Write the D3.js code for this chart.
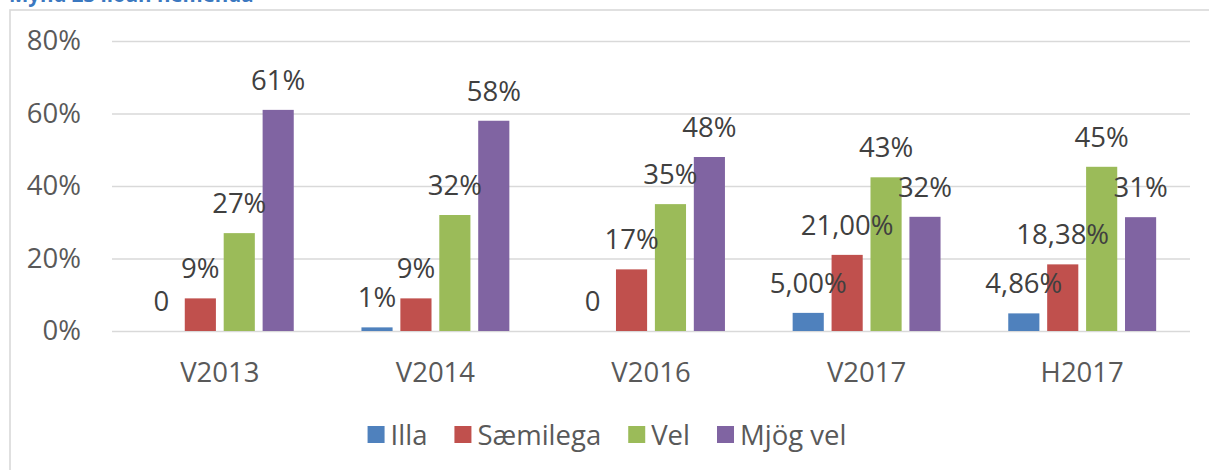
<!DOCTYPE html>
<html>
<head>
<meta charset="utf-8">
<script src="https://cdn.jsdelivr.net/npm/d3@7"></script>
<style>
  body { margin: 0; background: #fff; }
  svg { display: block; font-family: "Open Sans", sans-serif; }
</style>
</head>
<body>
<svg class="bar-chart"></svg>
<script>
const title = 'Mynd 23 líðan nemenda';
const categories = ['V2013', 'V2014', 'V2016', 'V2017', 'H2017'];
const seriesNames = ['Illa', 'Sæmilega', 'Vel', 'Mjög vel'];
const seriesColors = ['#4f81bd', '#c0504d', '#9bbb59', '#8064a2'];

const illa = [0, 0.01, 0, 0.05, 0.0486];
const saemilega = [0.09, 0.09, 0.17, 0.21, 0.1838];
const vel = [0.27, 0.32, 0.35, 0.424, 0.453];
const mjogVel = [0.61, 0.58, 0.48, 0.315, 0.314];

const illaLabels = ['0', '1%', '0', '5,00%', '4,86%'];
const saemilegaLabels = ['9%', '9%', '17%', '21,00%', '18,38%'];
const velLabels = ['27%', '32%', '35%', '43%', '45%'];
const mjogVelLabels = ['61%', '58%', '48%', '32%', '31%'];

const yTicks = [0, 0.2, 0.4, 0.6, 0.8];
const yTickLabels = ['0%', '20%', '40%', '60%', '80%'];

const seriesValues = [illa, saemilega, vel, mjogVel];
const seriesLabels = [illaLabels, saemilegaLabels, velLabels, mjogVelLabels];

drawChart();

function drawChart() {
  const svgWidth = 1209, svgHeight = 470;
  const plot = { left: 112, right: 1190, top: 41, bottom: 331 };

  const svg = d3.select('svg.bar-chart')
    .attr('width', svgWidth)
    .attr('height', svgHeight);

  // chart frame
  svg.append('rect')
    .attr('x', 10).attr('y', 10)
    .attr('width', 1300).attr('height', 600)
    .attr('fill', 'none')
    .attr('stroke', '#d9d9d9')
    .attr('stroke-width', 1.6);

  // title, cut off at the top like the source picture
  svg.append('text')
    .attr('x', 9).attr('y', 2)
    .attr('fill', '#3b78c0')
    .attr('font-weight', 'bold')
    .attr('font-size', 20.5)
    .text(title);

  const x0 = d3.scaleBand()
    .domain(categories)
    .range([plot.left, plot.right])
    .paddingInner(0.314)
    .paddingOuter(0.157);

  const x1 = d3.scaleBand()
    .domain(seriesNames)
    .range([0, x0.bandwidth()])
    .paddingInner(0.2);

  const y = d3.scaleLinear()
    .domain([0, 0.8])
    .range([plot.bottom, plot.top]);

  // gridlines + y labels
  const yAxis = d3.axisLeft(y)
    .tickValues(yTicks)
    .tickSize(-(plot.right - plot.left))
    .tickPadding(31)
    .tickFormat((d, i) => yTickLabels[i]);

  const gy = svg.append('g')
    .attr('transform', `translate(${plot.left},0)`)
    .call(yAxis);
  gy.select('.domain').remove();
  gy.selectAll('.tick line')
    .attr('stroke', '#d9d9d9')
    .attr('stroke-width', 1.6);
  gy.selectAll('.tick text')
    .attr('fill', '#595959')
    .attr('font-size', 27.5)
    .attr('font-family', '"Open Sans", sans-serif');

  // x labels
  const gx = svg.append('g')
    .attr('transform', `translate(0,${plot.bottom})`)
    .call(d3.axisBottom(x0).tickSize(0).tickPadding(0));
  gx.select('.domain').remove();
  gx.selectAll('.tick text')
    .attr('fill', '#595959')
    .attr('font-size', 27.5)
    .attr('font-family', '"Open Sans", sans-serif')
    .attr('dy', null)
    .attr('y', 51);

  // bars
  const points = [];
  seriesNames.forEach((s, si) => {
    categories.forEach((c, ci) => {
      points.push({ series: s, si, cat: c, value: seriesValues[si][ci], label: seriesLabels[si][ci] });
    });
  });

  svg.append('g').selectAll('rect')
    .data(points)
    .join('rect')
    .attr('x', d => x0(d.cat) + x1(d.series))
    .attr('y', d => y(d.value))
    .attr('width', x1.bandwidth())
    .attr('height', d => y(0) - y(d.value))
    .attr('fill', d => seriesColors[d.si]);

  svg.append('g').selectAll('text')
    .data(points)
    .join('text')
    .attr('x', d => x0(d.cat) + x1(d.series) + x1.bandwidth() / 2)
    .attr('y', d => y(d.value) - 20)
    .attr('text-anchor', 'middle')
    .attr('fill', '#404040')
    .attr('font-size', 27.5)
    .text(d => d.label);

  // legend
  const legend = svg.append('g');
  const items = legend.selectAll('g')
    .data(seriesNames)
    .join('g');
  items.append('rect')
    .attr('y', 426)
    .attr('width', 17).attr('height', 17)
    .attr('fill', (d, i) => seriesColors[i]);
  items.append('text')
    .attr('x', 23)
    .attr('y', 445)
    .attr('fill', '#595959')
    .attr('font-size', 27.5)
    .text(d => d);

  let pos = 0;
  items.each(function() {
    const w = 23 + d3.select(this).select('text').node().getComputedTextLength();
    d3.select(this).attr('transform', `translate(${pos},0)`);
    pos += w + 27;
  });
  const total = pos - 27;
  legend.attr('transform', `translate(${607 - total / 2},0)`);
}
</script>
</body>
</html>
